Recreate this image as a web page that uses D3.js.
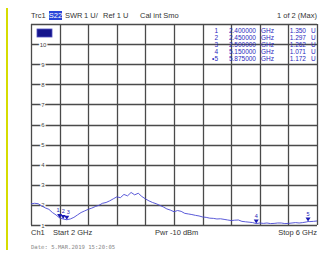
<!DOCTYPE html>
<html>
<head>
<meta charset="utf-8">
<script src="https://cdn.jsdelivr.net/npm/d3@7"></script>
<style>
  body { margin: 0; background: #fff; }
  svg text { font-family: "Liberation Sans", Arial, sans-serif; }
</style>
</head>
<body>
<div id="chart"></div>
<script>
// trace S22 SWR
var freqs = [2.0, 2.05, 2.1, 2.15, 2.2, 2.25, 2.3, 2.35, 2.4, 2.45, 2.5, 2.55, 2.6, 2.65, 2.7, 2.75, 2.8, 2.85, 2.9, 2.95,
             3.0, 3.05, 3.1, 3.15, 3.2, 3.25, 3.3, 3.35, 3.4, 3.45, 3.5, 3.55, 3.6, 3.65, 3.7, 3.75, 3.8, 3.85, 3.9, 3.95,
             4.0, 4.05, 4.1, 4.15, 4.2, 4.25, 4.3, 4.35, 4.4, 4.45, 4.5, 4.55, 4.6, 4.65, 4.7, 4.75, 4.8, 4.85, 4.9, 4.95,
             5.0, 5.05, 5.1, 5.15, 5.2, 5.25, 5.3, 5.35, 5.4, 5.45, 5.5, 5.55, 5.6, 5.65, 5.7, 5.75, 5.8, 5.85, 5.875, 5.9, 5.95, 6.0];
var swr   = [2.05, 2.08, 2.06, 1.95, 1.85, 1.78, 1.62, 1.5, 1.35, 1.297, 1.262, 1.3, 1.38, 1.5, 1.62, 1.7, 1.78, 1.84, 1.92, 1.98,
             2.08, 2.12, 2.2, 2.3, 2.4, 2.36, 2.52, 2.45, 2.62, 2.5, 2.58, 2.42, 2.3, 2.2, 2.12, 2.06, 1.98, 1.9, 1.8, 1.74,
             1.66, 1.72, 1.68, 1.58, 1.55, 1.52, 1.48, 1.45, 1.4, 1.38, 1.34, 1.33, 1.3, 1.31, 1.28, 1.25, 1.22, 1.24, 1.25, 1.18,
             1.16, 1.14, 1.12, 1.071, 1.1, 1.08, 1.1, 1.07, 1.08, 1.1, 1.1, 1.07, 1.08, 1.1, 1.12, 1.1, 1.12, 1.15, 1.172, 1.17, 1.18, 1.2];

// marker table
var markerIds   = ["1", "2", "3", "4", "\u20225"];
var markerFreqs = [2.4, 2.45, 2.5, 5.15, 5.875];
var markerVals  = [1.350, 1.297, 1.262, 1.071, 1.172];

var yTicks = [1, 2, 3, 4, 5, 6, 7, 8, 9, 10];

var W = 319, H = 253;
var svg = d3.select('#chart').append('svg')
    .attr('width', W).attr('height', H);

var plot = {left: 31, right: 317, top: 24, bottom: 225};

var x = d3.scaleLinear().domain([2, 6]).range([plot.left, plot.right]);
var y = d3.scaleLinear().domain([1, 11]).range([plot.bottom, plot.top]);

// yellow bar at the left
svg.append('line')
    .attr('x1', 7).attr('x2', 7).attr('y1', 8).attr('y2', 250)
    .attr('stroke', '#d6dc00').attr('stroke-width', 2);

// grid
var grid = svg.append('g');
grid.selectAll('.vl').data(d3.range(2, 6.01, 0.4)).enter().append('line')
    .attr('x1', function(d) { return Math.round(x(d)) + 0.5; })
    .attr('x2', function(d) { return Math.round(x(d)) + 0.5; })
    .attr('y1', plot.top).attr('y2', plot.bottom)
    .attr('stroke', '#4a4a4a').attr('stroke-width', 1.3);
grid.selectAll('.hl').data(d3.range(1, 11.01, 1)).enter().append('line')
    .attr('x1', plot.left).attr('x2', plot.right)
    .attr('y1', function(d) { return Math.round(y(d)) + 0.5; })
    .attr('y2', function(d) { return Math.round(y(d)) + 0.5; })
    .attr('stroke', '#4a4a4a').attr('stroke-width', 1.3);

// y labels sit on the grid lines
grid.selectAll('.yl').data(yTicks).enter().append('text')
    .attr('x', 43).attr('y', function(d) { return y(d) + 2.5; })
    .attr('text-anchor', 'middle')
    .attr('font-size', 6).attr('fill', '#444')
    .attr('stroke', '#fff').attr('stroke-width', 2.5).attr('paint-order', 'stroke')
    .text(function(d) { return d; });

// trace
var line = d3.line()
    .x(function(d) { return x(d[0]); })
    .y(function(d) { return y(d[1]); });
svg.append('path')
    .datum(d3.zip(freqs, swr))
    .attr('d', line)
    .attr('fill', 'none')
    .attr('stroke', '#4848d4').attr('stroke-width', 0.9);

// markers
var mk = svg.append('g').selectAll('g').data(d3.range(markerFreqs.length)).enter().append('g')
    .attr('transform', function(i) { return 'translate(' + x(markerFreqs[i]) + ',' + y(markerVals[i]) + ')'; });
mk.append('path')
    .attr('d', 'M-2.5,-4L2.5,-4L0,0Z')
    .attr('fill', '#1a1ab4');
mk.append('text')
    .attr('y', -6).attr('text-anchor', 'middle')
    .attr('font-size', 5.5).attr('fill', '#1a1ab4')
    .attr('dx', function(i) { return i < 3 ? (i - 1) * 1.5 : 0; })
    .text(function(i) { return String(i + 1); });

// legend box top left
svg.append('rect')
    .attr('x', 37).attr('y', 29).attr('width', 15).attr('height', 8)
    .attr('fill', '#14148c').attr('stroke', '#5050c0').attr('stroke-width', 0.8);

// header
var hdr = svg.append('g').attr('font-size', 7.5).attr('fill', '#333');
hdr.append('text').attr('x', 31).attr('y', 18).text('Trc1');
hdr.append('rect').attr('x', 49).attr('y', 11).attr('width', 13).attr('height', 9).attr('fill', '#2a45d8');
hdr.append('text').attr('x', 55.5).attr('y', 18).attr('text-anchor', 'middle').attr('fill', '#fff').text('S22');
hdr.append('text').attr('x', 65).attr('y', 18).text('SWR');
hdr.append('text').attr('x', 84).attr('y', 18).text('1 U/');
hdr.append('text').attr('x', 103).attr('y', 18).text('Ref 1 U');
hdr.append('text').attr('x', 140).attr('y', 18).text('Cal int Smo');
hdr.append('text').attr('x', 317).attr('y', 18).attr('text-anchor', 'end').text('1 of 2 (Max)');

// marker table
var tbl = svg.append('g').attr('font-size', 6.5).attr('fill', '#2a2ac0');
var rowY = function(i) { return 33 + i * 7; };
tbl.selectAll('.id').data(markerIds).enter().append('text')
    .attr('x', 218).attr('y', function(d, i) { return rowY(i); })
    .attr('text-anchor', 'end').text(function(d) { return d; });
tbl.selectAll('.fq').data(markerFreqs).enter().append('text')
    .attr('x', 256).attr('y', function(d, i) { return rowY(i); })
    .attr('text-anchor', 'end').text(function(d) { return d3.format('.6f')(d); });
tbl.selectAll('.gh').data(markerFreqs).enter().append('text')
    .attr('x', 261).attr('y', function(d, i) { return rowY(i); })
    .text('GHz');
tbl.selectAll('.vl').data(markerVals).enter().append('text')
    .attr('x', 306).attr('y', function(d, i) { return rowY(i); })
    .attr('text-anchor', 'end').text(function(d) { return d3.format('.3f')(d); });
tbl.selectAll('.un').data(markerVals).enter().append('text')
    .attr('x', 311).attr('y', function(d, i) { return rowY(i); })
    .text('U');

// footer
var ftr = svg.append('g').attr('font-size', 7.5).attr('fill', '#333');
ftr.append('text').attr('x', 31).attr('y', 235).text('Ch1');
ftr.append('text').attr('x', 53).attr('y', 235).text('Start  2 GHz');
ftr.append('text').attr('x', 155).attr('y', 235).text('Pwr  -10 dBm');
ftr.append('text').attr('x', 317).attr('y', 235).attr('text-anchor', 'end').text('Stop  6 GHz');

svg.append('text')
    .attr('x', 31).attr('y', 249)
    .attr('font-size', 5.6).attr('fill', '#888')
    .style('font-family', '"DejaVu Sans Mono", monospace')
    .text('Date: 5.MAR.2019  15:20:05');
</script>
</body>
</html>
